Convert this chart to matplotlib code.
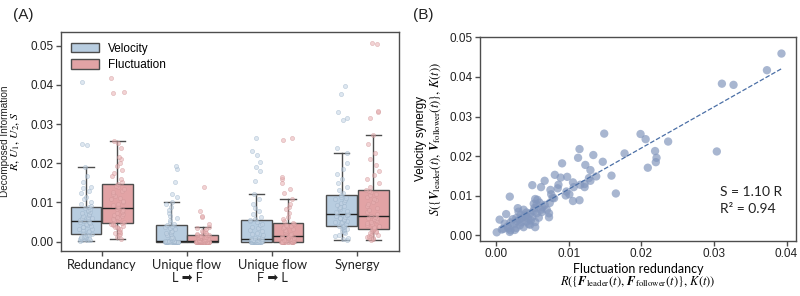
import numpy as np
import matplotlib
matplotlib.use('Agg')
import matplotlib.pyplot as plt
from matplotlib.patches import Patch

# ---- panel A data: decomposed information per category ----
categories = ['Redundancy', 'Unique flow\nL \u27a1 F', 'Unique flow\nF \u27a1 L', 'Synergy']

red_vel = [0.0002, 0.0003, 0.0004, 0.0005, 0.0006, 0.0007, 0.0008, 0.0009, 0.0010, 0.0011,
           0.0012, 0.0013, 0.0015, 0.0016, 0.0018, 0.0019, 0.0021, 0.0024, 0.0026, 0.0029,
           0.0031, 0.0033, 0.0036, 0.0038, 0.0040, 0.0042, 0.0044, 0.0047, 0.0049, 0.0051,
           0.0053, 0.0055, 0.0057, 0.0059, 0.0061, 0.0063, 0.0066, 0.0068, 0.0070, 0.0072,
           0.0075, 0.0078, 0.0080, 0.0083, 0.0086, 0.0088, 0.0092, 0.0097, 0.0101, 0.0108,
           0.0115, 0.0123, 0.0130, 0.0136, 0.0140, 0.0152, 0.0168, 0.0190, 0.0247, 0.0250,
           0.0408]
red_flu = [0.0007, 0.0012, 0.0016, 0.0019, 0.0022, 0.0025, 0.0028, 0.0031, 0.0034, 0.0036,
           0.0038, 0.0040, 0.0042, 0.0044, 0.0046, 0.0048, 0.0050, 0.0053, 0.0055, 0.0058,
           0.0060, 0.0063, 0.0065, 0.0068, 0.0070, 0.0073, 0.0076, 0.0078, 0.0080, 0.0083,
           0.0085, 0.0089, 0.0093, 0.0097, 0.0100, 0.0104, 0.0108, 0.0112, 0.0117, 0.0121,
           0.0126, 0.0130, 0.0135, 0.0139, 0.0143, 0.0146, 0.0152, 0.0160, 0.0168, 0.0175,
           0.0183, 0.0192, 0.0200, 0.0210, 0.0215, 0.0240, 0.0252, 0.0258, 0.0380, 0.0382,
           0.0418]
lf_vel = [0.0] * 25 + [
          0.00005, 0.0001, 0.0001, 0.00015, 0.0002, 0.0002, 0.0004, 0.0006, 0.0008, 0.0010,
          0.0013, 0.0016, 0.0019, 0.0022, 0.0025, 0.0028, 0.0031, 0.0034, 0.0037, 0.0040,
          0.0042, 0.0046, 0.0050, 0.0055, 0.0060, 0.0066, 0.0072, 0.0080, 0.0088, 0.0095,
          0.0102, 0.0115, 0.0122, 0.0153, 0.0185, 0.0193]
lf_flu = [0.0] * 25 + [
          0.00003, 0.00005, 0.00007, 0.0001, 0.0001, 0.0001, 0.0002, 0.0003, 0.0004, 0.0005,
          0.0006, 0.0007, 0.0008, 0.0009, 0.0010, 0.0011, 0.0012, 0.0013, 0.0014, 0.0015,
          0.0016, 0.0017, 0.0018, 0.0020, 0.0022, 0.0024, 0.0026, 0.0028, 0.0031, 0.0034,
          0.0038, 0.0045, 0.0062, 0.0066, 0.0079, 0.0140]
fl_vel = [0.0] * 18 + [
          0.00005, 0.0001, 0.00015, 0.0002, 0.00025, 0.0003, 0.00035, 0.0004, 0.00045, 0.0005,
          0.00052, 0.00056, 0.0006, 0.0008, 0.0010, 0.0013, 0.0016, 0.0019, 0.0022, 0.0026,
          0.0030, 0.0034, 0.0038, 0.0042, 0.0046, 0.0049, 0.0052, 0.0054, 0.0058, 0.0064,
          0.0070, 0.0078, 0.0085, 0.0095, 0.0110, 0.0122, 0.0155, 0.0180, 0.0190, 0.0203,
          0.0220, 0.0230, 0.0264]
fl_flu = [0.0] * 16 + [
          0.0001, 0.0002, 0.0003, 0.0004, 0.0005, 0.0006, 0.0007, 0.0008, 0.0009, 0.0010,
          0.0011, 0.0012, 0.0013, 0.0014, 0.0015, 0.0017, 0.0019, 0.0021, 0.0023, 0.0025,
          0.0027, 0.0029, 0.0031, 0.0034, 0.0036, 0.0039, 0.0041, 0.0043, 0.0045, 0.0047,
          0.0052, 0.0058, 0.0064, 0.0072, 0.0082, 0.0088, 0.0095, 0.0110, 0.0125, 0.0135,
          0.0150, 0.0160, 0.0165, 0.0260, 0.0265]
syn_vel = [0.0003, 0.0006, 0.0010, 0.0014, 0.0018, 0.0021, 0.0024, 0.0027, 0.0029, 0.0031,
           0.0033, 0.0035, 0.0037, 0.0038, 0.0040, 0.0041, 0.0043, 0.0045, 0.0047, 0.0049,
           0.0051, 0.0053, 0.0055, 0.0057, 0.0059, 0.0061, 0.0063, 0.0065, 0.0067, 0.0068,
           0.0070, 0.0073, 0.0076, 0.0079, 0.0082, 0.0085, 0.0088, 0.0091, 0.0094, 0.0098,
           0.0101, 0.0105, 0.0109, 0.0112, 0.0115, 0.0118, 0.0124, 0.0132, 0.0140, 0.0150,
           0.0160, 0.0172, 0.0185, 0.0200, 0.0225, 0.0240, 0.0310, 0.0315, 0.0330, 0.0377,
           0.0398]
syn_flu = [0.0004, 0.0006, 0.0008, 0.0010, 0.0012, 0.0014, 0.0016, 0.0018, 0.0020, 0.0022,
           0.0024, 0.0026, 0.0028, 0.0030, 0.0032, 0.0033, 0.0035, 0.0037, 0.0039, 0.0041,
           0.0043, 0.0045, 0.0047, 0.0050, 0.0052, 0.0055, 0.0057, 0.0059, 0.0061, 0.0063,
           0.0065, 0.0070, 0.0075, 0.0080, 0.0085, 0.0090, 0.0095, 0.0100, 0.0105, 0.0110,
           0.0114, 0.0118, 0.0122, 0.0126, 0.0129, 0.0132, 0.0140, 0.0150, 0.0160, 0.0170,
           0.0180, 0.0195, 0.0210, 0.0225, 0.0250, 0.0273, 0.0315, 0.0332, 0.0333, 0.0505,
           0.0508]

velocity = [red_vel, lf_vel, fl_vel, syn_vel]
fluctuation = [red_flu, lf_flu, fl_flu, syn_flu]

# ---- panel B data: fluctuation redundancy vs velocity synergy ----
fluct_red = [0.0393, 0.0373, 0.0311, 0.0327, 0.0304, 0.0149, 0.0199, 0.0206, 0.0237, 0.0219,
             0.0177, 0.0221, 0.0220, 0.0147, 0.0209, 0.0159, 0.0165, 0.0115, 0.0113, 0.0134,
             0.0091, 0.0123, 0.0130, 0.0138, 0.0081, 0.0089, 0.0098, 0.0130, 0.0106, 0.0122,
             0.0116, 0.0122, 0.0085, 0.0050, 0.0062, 0.0067, 0.0097, 0.0075, 0.0076, 0.0101,
             0.0096, 0.0106, 0.0115, 0.0019, 0.0080, 0.0074, 0.0054, 0.0052, 0.0060, 0.0053,
             0.0067, 0.0062, 0.0070, 0.0073, 0.0073, 0.0030, 0.0031, 0.0038, 0.0042, 0.0047,
             0.0056, 0.0034, 0.0040, 0.0028, 0.0023, 0.0032, 0.0048, 0.0042, 0.0035, 0.0054,
             0.0014, 0.0005, 0.0020, 0.0025, 0.0016, 0.0020, 0.0010, 0.0001, 0.0038, 0.0054,
             0.0028, 0.0017, 0.0026, 0.0047, 0.0059, 0.0019, 0.0036, 0.0044, 0.0050, 0.0057,
             0.0056, 0.0064, 0.0045, 0.0033, 0.0029, 0.0041, 0.0063, 0.0052, 0.0078, 0.0086,
             0.0107, 0.0128, 0.0012, 0.0008]
vel_syn = [0.0459, 0.0417, 0.0383, 0.0380, 0.0212, 0.0257, 0.0256, 0.0243, 0.0237, 0.0213,
           0.0207, 0.0196, 0.0185, 0.0186, 0.0171, 0.0151, 0.0106, 0.0218, 0.0196, 0.0203,
           0.0182, 0.0178, 0.0165, 0.0149, 0.0153, 0.0146, 0.0148, 0.0138, 0.0134, 0.0130,
           0.0128, 0.0122, 0.0119, 0.0127, 0.0122, 0.0138, 0.0111, 0.0115, 0.0104, 0.0104,
           0.0101, 0.0087, 0.0089, 0.0098, 0.0094, 0.0082, 0.0092, 0.0080, 0.0083, 0.0069,
           0.0077, 0.0065, 0.0065, 0.0056, 0.0046, 0.0069, 0.0060, 0.0065, 0.0058, 0.0056,
           0.0056, 0.0052, 0.0048, 0.0044, 0.0041, 0.0040, 0.0038, 0.0035, 0.0033, 0.0034,
           0.0054, 0.0040, 0.0033, 0.0029, 0.0023, 0.0013, 0.0017, 0.0008, 0.0021, 0.0021,
           0.0019, 0.0018, 0.0014, 0.0027, 0.0045, 0.0009, 0.0045, 0.0043, 0.0047, 0.0090,
           0.0078, 0.0071, 0.0029, 0.0026, 0.0036, 0.0051, 0.0059, 0.0062, 0.0095, 0.0128,
           0.0122, 0.0145, 0.0030, 0.0015]

vel_color = '#b8cde0'
flu_color = '#e2a3a5'
edge = '#4d4d4d'
sans = ['Liberation Sans', 'DejaVu Sans']
human = ['Lato', 'DejaVu Sans']

plt.rcParams['font.family'] = sans
plt.rcParams['axes.edgecolor'] = edge
plt.rcParams['axes.linewidth'] = 1.0
plt.rcParams['xtick.color'] = edge
plt.rcParams['ytick.color'] = edge
plt.rcParams['xtick.labelcolor'] = '#222222'
plt.rcParams['ytick.labelcolor'] = '#222222'

fig = plt.figure(figsize=(8, 2.96), dpi=100)
axA = fig.add_axes([0.076, 0.152, 0.423, 0.740])
axB = fig.add_axes([0.600, 0.187, 0.395, 0.687])

# ---------------- panel A ----------------
rng = np.random.default_rng(3)
pos = np.arange(len(categories))
offset = 0.185
bw = 0.36
for vals, shift, col, pcol, pedge in [(velocity, -offset, vel_color, '#c3d4e4', '#9ab1c8'),
                                      (fluctuation, offset, flu_color, '#e8b0b2', '#cf9597')]:
    axA.boxplot(vals, positions=pos + shift, widths=bw, patch_artist=True,
                showfliers=False, whis=1.5,
                boxprops=dict(facecolor=col, edgecolor=edge, linewidth=1.0),
                medianprops=dict(color='#222222', linewidth=1.0),
                whiskerprops=dict(color=edge, linewidth=1.0),
                capprops=dict(color=edge, linewidth=1.0), zorder=2)
    for i, v in enumerate(vals):
        jit = rng.uniform(-0.08, 0.08, len(v))
        axA.scatter(pos[i] + shift + jit, v, s=9, facecolor=pcol, edgecolor=pedge,
                    linewidth=0.5, alpha=0.55, zorder=3)

axA.set_xlim(-0.48, 3.49)
axA.set_ylim(-0.0024, 0.0535)
axA.set_yticks([0.0, 0.01, 0.02, 0.03, 0.04, 0.05])
axA.set_yticklabels(['0.00', '0.01', '0.02', '0.03', '0.04', '0.05'], fontsize=8.5)
axA.set_xticks(pos)
axA.set_xticklabels(categories, fontsize=9.3, family=human, linespacing=1.15)
axA.tick_params(length=3.5, width=1.0, pad=2)
fig.text(0.0058, 0.522, 'Decomposed Information', fontsize=7.2, rotation=90,
         ha='center', va='center', color='#222222')
fig.text(0.0200, 0.522, '$R,\\, U_1,\\, U_2,\\, S$', fontsize=8.5, rotation=90,
         ha='center', va='center', math_fontfamily='stix')
leg = axA.legend(handles=[Patch(facecolor=vel_color, edgecolor=edge, label='Velocity'),
                          Patch(facecolor=flu_color, edgecolor=edge, label='Fluctuation')],
                 loc='upper left', frameon=False, fontsize=8.5, handlelength=2.3,
                 handleheight=0.9, borderaxespad=0.5, labelspacing=0.35)
fig.text(0.016, 0.95, '(A)', fontsize=11, color='#222222', va='center')

# ---------------- panel B ----------------
xs = np.array(fluct_red)
ys = np.array(vel_syn)
axB.scatter(xs, ys, s=36, color='#8397bd', alpha=0.7, edgecolor='none', zorder=3)
k, b = np.polyfit(xs, ys, 1)
xl = np.array([xs.min() + 0.0005, xs.max()])
axB.plot(xl, k * xl + b, linestyle='--', color='#4b6fa6', linewidth=0.9, zorder=4)
axB.text(0.0308, 0.0109, 'S = 1.10 R', fontsize=10, family=human, va='center', color='#222222')
axB.text(0.0308, 0.0066, 'R\u00b2 = 0.94', fontsize=10, family=human, va='center', color='#222222')

axB.set_xlim(-0.0022, 0.0413)
axB.set_ylim(-0.0013, 0.05)
axB.set_xticks([0.0, 0.01, 0.02, 0.03, 0.04])
axB.set_xticklabels(['0.00', '0.01', '0.02', '0.03', '0.04'], fontsize=8.5)
axB.set_yticks([0.0, 0.01, 0.02, 0.03, 0.04, 0.05])
axB.set_yticklabels(['0.00', '0.01', '0.02', '0.03', '0.04', '0.05'], fontsize=8.5)
axB.tick_params(length=3.5, width=1.0, pad=2)
axB.set_xlabel('Fluctuation redundancy', fontsize=9, family=human, labelpad=2)
axB.set_ylabel('Velocity synergy', fontsize=8.5, labelpad=16)
fig.text(0.60 + 0.395 / 2, 0.022,
         r'$R(\{\boldsymbol{F}_{\mathrm{leader}}(t),\, \boldsymbol{F}_{\mathrm{follower}}(t)\},\, K(t))$',
         fontsize=9, math_fontfamily='stix', ha='center', va='bottom')
fig.text(0.545, 0.187 + 0.687 / 2,
         r'$S(\{\boldsymbol{V}_{\mathrm{leader}}(t),\, \boldsymbol{V}_{\mathrm{follower}}(t)\},\, K(t))$',
         fontsize=9, math_fontfamily='stix', ha='center', va='center', rotation=90)
fig.text(0.516, 0.95, '(B)', fontsize=11, color='#222222', va='center')

fig.savefig('out.png', dpi=100)
